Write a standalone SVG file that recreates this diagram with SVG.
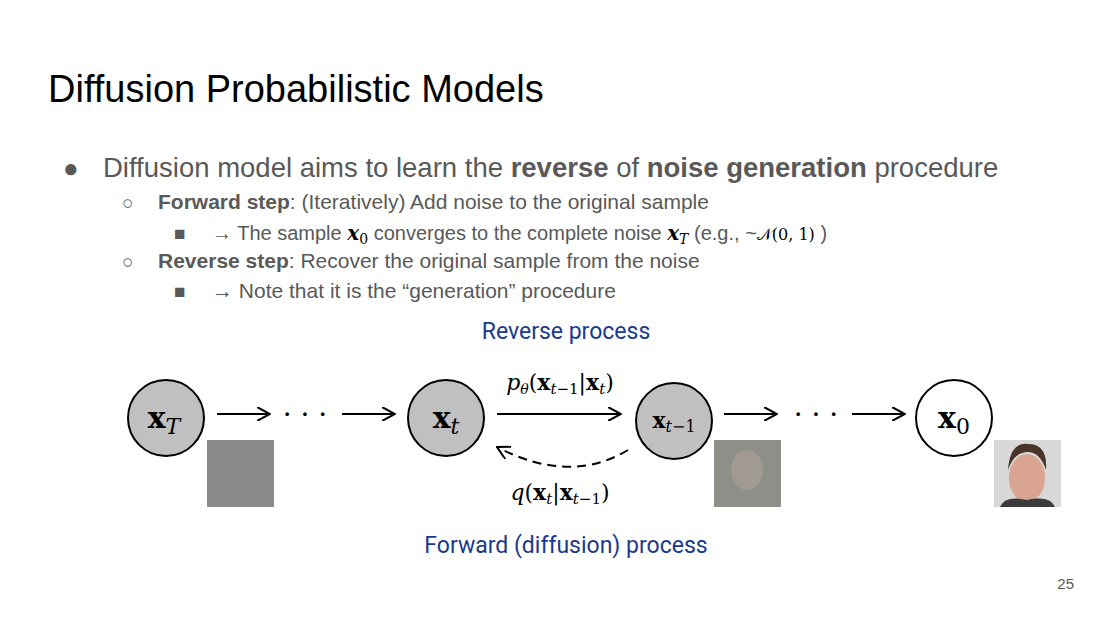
<svg xmlns="http://www.w3.org/2000/svg" width="1100" height="618" viewBox="0 0 1100 618">
<style>
.t{font-family:"Liberation Sans",Arial,sans-serif;fill:#595959}
.m{font-family:"DejaVu Serif","Liberation Serif",serif;fill:#000}
.b{font-family:Roboto,"Liberation Sans",sans-serif;fill:#1a3a8c;font-size:23px}
.n{fill:#c0c0c0;stroke:#000;stroke-width:2}
.a{stroke:#000;stroke-width:2;fill:none}
</style>
<defs><marker id="hb" viewBox="0 0 14 14" refX="13" refY="7" markerWidth="14" markerHeight="14" markerUnits="userSpaceOnUse" orient="auto"><path d="M0,0 L13,7 L0,14" fill="none" stroke="#000" stroke-width="2"/></marker></defs>
<rect width="1100" height="618" fill="#fff"/>
<text class="t" x="48" y="102" font-size="38" style="fill:#000">Diffusion Probabilistic Models</text>
<text class="t" x="63" y="177" font-size="26">●</text>
<text class="t" x="103" y="177" font-size="27.5">Diffusion model aims to learn the <tspan font-weight="bold">reverse</tspan> of <tspan font-weight="bold">noise generation</tspan> procedure</text>
<text class="t" x="122" y="209" font-size="19">○</text>
<text class="t" x="158" y="209" font-size="21"><tspan font-weight="bold">Forward step</tspan>: (Iteratively) Add noise to the original sample</text>
<text class="t" x="174" y="240" font-size="19">■</text>
<text class="t" x="212" y="240" font-size="20">→ The sample <tspan class="m" font-style="italic" font-weight="bold" style="fill:#000">x</tspan><tspan class="m" font-size="14" dy="4" style="fill:#000">0</tspan><tspan dy="-4"> converges to the complete noise </tspan><tspan class="m" font-style="italic" font-weight="bold" style="fill:#000">x</tspan><tspan class="m" font-style="italic" font-size="14" dy="4" style="fill:#000">T</tspan><tspan dy="-4"> (e.g., ~</tspan><tspan class="m" font-size="16" style="fill:#000">𝒩(0, 1)</tspan><tspan> )</tspan></text>
<text class="t" x="122" y="268" font-size="19">○</text>
<text class="t" x="158" y="268" font-size="21"><tspan font-weight="bold">Reverse step</tspan>: Recover the original sample from the noise</text>
<text class="t" x="174" y="298" font-size="19">■</text>
<text class="t" x="212" y="298" font-size="21">→ Note that it is the “generation” procedure</text>
<text class="b" x="566" y="339" text-anchor="middle">Reverse process</text>
<text class="b" x="566" y="553" text-anchor="middle">Forward (diffusion) process</text>
<g id="connectors">
<line class="a" x1="217" y1="414" x2="270" y2="414" marker-end="url(#hb)"/>
<text class="m" x="305" y="424" font-size="28" text-anchor="middle">· · ·</text>
<line class="a" x1="342" y1="414" x2="395" y2="414" marker-end="url(#hb)"/>
<line class="a" x1="497" y1="414" x2="621" y2="414" marker-end="url(#hb)"/>
<path class="a" d="M628,450 Q570,485 497,447" stroke-dasharray="9,6" marker-end="url(#hb)"/>
<line class="a" x1="724" y1="414" x2="777" y2="414" marker-end="url(#hb)"/>
<text class="m" x="816" y="424" font-size="28" text-anchor="middle">· · ·</text>
<line class="a" x1="852" y1="414" x2="905" y2="414" marker-end="url(#hb)"/>
<text class="m" x="560" y="390" font-size="22" text-anchor="middle"><tspan font-style="italic">p</tspan><tspan font-style="italic" font-size="14" dy="4">θ</tspan><tspan dy="-4">(</tspan><tspan font-weight="bold">x</tspan><tspan font-style="italic" font-size="15" dy="4">t</tspan><tspan font-size="15">−1</tspan><tspan dy="-4">|</tspan><tspan font-weight="bold">x</tspan><tspan font-style="italic" font-size="15" dy="4">t</tspan><tspan dy="-4">)</tspan></text>
<text class="m" x="560" y="500" font-size="22" text-anchor="middle"><tspan font-style="italic">q</tspan>(<tspan font-weight="bold">x</tspan><tspan font-style="italic" font-size="15" dy="4">t</tspan><tspan dy="-4">|</tspan><tspan font-weight="bold">x</tspan><tspan font-style="italic" font-size="15" dy="4">t</tspan><tspan font-size="15">−1</tspan><tspan dy="-4">)</tspan></text>
</g>
<g id="xT"><circle class="n" cx="166" cy="418" r="38"/><text class="m" x="164" y="428" font-size="30" text-anchor="middle"><tspan font-weight="bold">x</tspan><tspan font-style="italic" font-size="22" dy="6">T</tspan></text></g>
<g id="xt"><circle class="n" cx="446" cy="418" r="38"/><text class="m" x="446" y="428" font-size="30" text-anchor="middle"><tspan font-weight="bold">x</tspan><tspan font-style="italic" font-size="22" dy="6">t</tspan></text></g>
<g id="xt1"><circle class="n" cx="674" cy="421" r="38"/><text class="m" x="674" y="428" font-size="22" text-anchor="middle"><tspan font-weight="bold">x</tspan><tspan font-style="italic" font-size="16" dy="4">t</tspan><tspan font-size="16">−1</tspan></text></g>
<g id="x0"><circle class="n" cx="954" cy="418" r="38" style="fill:#fff"/><text class="m" x="954" y="428" font-size="30" text-anchor="middle"><tspan font-weight="bold">x</tspan><tspan font-size="22" dy="6">0</tspan></text></g>
<rect x="207" y="440" width="67" height="67" fill="#8a8a8a"/>
<rect x="714" y="440" width="67" height="67" fill="#8f8f8a"/>
<ellipse cx="747" cy="470" rx="16" ry="20" fill="#a09a90"/>
<rect x="994" y="440" width="67" height="67" fill="#d8d8d8"/>
<ellipse cx="1027" cy="478" rx="18" ry="24" fill="#d9a590"/>
<path d="M1008,470 Q1010,442 1028,444 Q1048,444 1046,470 Q1040,452 1028,452 Q1014,452 1008,470Z" fill="#4a3328"/>
<path d="M1000,507 Q1005,495 1027,500 Q1050,495 1055,507Z" fill="#3a3a3a"/>
<text class="t" x="1074" y="589" font-size="15" text-anchor="end">25</text>
</svg>
